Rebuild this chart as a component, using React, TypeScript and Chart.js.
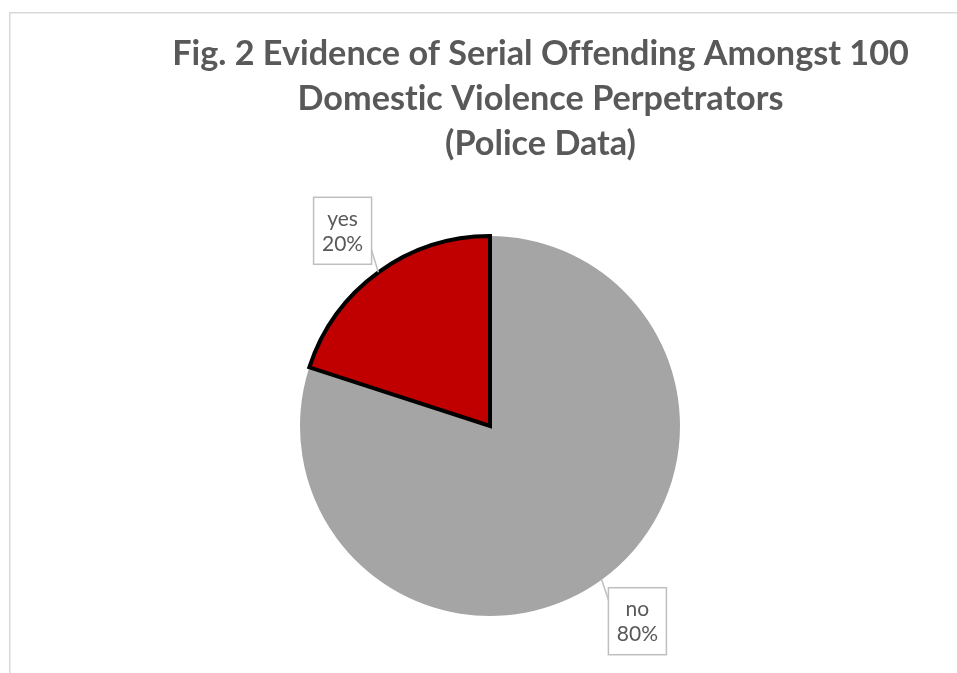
import React, { useEffect, useRef } from "react";
import { Chart, registerables } from "chart.js";

Chart.register(...registerables);

const titleLines = [
  "Fig. 2 Evidence of Serial Offending Amongst 100",
  "Domestic Violence Perpetrators",
  "(Police Data)",
];
const categories = ["no", "yes"];
const values = [80, 20];
const sliceColors = ["#A5A5A5", "#C00000"];
const sliceBorderColors = ["#A5A5A5", "#000000"];
const sliceBorderWidths = [0, 4];

const FONT = "Lato, 'Noto Sans', sans-serif";

const framePlugin = {
  id: "frame",
  beforeDraw(chart: any) {
    const ctx = chart.ctx;
    ctx.save();
    ctx.strokeStyle = "#D9D9D9";
    ctx.lineWidth = 1.5;
    ctx.beginPath();
    ctx.moveTo(9.75, chart.height + 5);
    ctx.lineTo(9.75, 12.75);
    ctx.lineTo(chart.width + 5, 12.75);
    ctx.stroke();
    ctx.restore();
  },
};

const titlePlugin = {
  id: "customTitle",
  afterDraw(chart: any) {
    const ctx = chart.ctx;
    ctx.save();
    try { (ctx as any).textRendering = "optimizeSpeed"; } catch (e) {}
    ctx.font = `bold 100px ${FONT}`;
    const w = ctx.measureText(titleLines[0]).width;
    const size = (737 / w) * 100;
    ctx.font = `bold ${size}px ${FONT}`;
    ctx.fillStyle = "#595959";
    ctx.textAlign = "center";
    ctx.textBaseline = "alphabetic";
    const cx = 540.5;
    const baselines = [65, 110, 155];
    titleLines.forEach((t, i) => ctx.fillText(t, cx, baselines[i]));
    ctx.restore();
  },
};

const calloutPlugin = {
  id: "callouts",
  afterDatasetsDraw(chart: any) {
    const ctx = chart.ctx;
    const meta = chart.getDatasetMeta(0);
    const data = chart.data.datasets[0].data as number[];
    const total = data.reduce((a, b) => a + b, 0);
    ctx.save();
    meta.data.forEach((arc: any, i: number) => {
      const p = arc.getProps(["x", "y", "startAngle", "endAngle", "outerRadius"], true);
      const mid = (p.startAngle + p.endAngle) / 2;
      const dx = Math.cos(mid);
      const dy = Math.sin(mid);
      const ex = p.x + dx * p.outerRadius;
      const ey = p.y + dy * p.outerRadius;
      const bx = p.x + dx * p.outerRadius * 1.32;
      const by = p.y + dy * p.outerRadius * 1.27;
      const bw = 58;
      const bh = 67;
      const left = bx - bw / 2;
      const top = by - bh / 2;
      const ax = dx < 0 ? left + bw : left;
      const ay = dy < 0 ? top + bh - 14 : top + 12;
      ctx.strokeStyle = "#BFBFBF";
      ctx.lineWidth = 1.5;
      ctx.fillStyle = "#FFFFFF";
      ctx.fillRect(left, top, bw, bh);
      ctx.strokeRect(left, top, bw, bh);
      ctx.beginPath();
      ctx.moveTo(ex, ey);
      ctx.lineTo(ax, ay);
      ctx.stroke();
      ctx.fillStyle = "#595959";
      ctx.font = `21px ${FONT}`;
      ctx.textAlign = "center";
      ctx.textBaseline = "middle";
      const pct = Math.round((data[i] / total) * 100) + "%";
      ctx.fillText(chart.data.labels[i], bx, by - 12);
      ctx.fillText(pct, bx, by + 13);
    });
    ctx.restore();
  },
};

export default function App() {
  const ref = useRef<HTMLCanvasElement | null>(null);
  useEffect(() => {
    if (!ref.current) return;
    const chart = new Chart(ref.current, {
      type: "pie",
      data: {
        labels: categories,
        datasets: [
          {
            data: values,
            backgroundColor: sliceColors,
            borderColor: sliceBorderColors,
            borderWidth: sliceBorderWidths,
            hoverBorderWidth: sliceBorderWidths,
            borderJoinStyle: "miter",
            hoverOffset: 0,
          } as any,
        ],
      },
      options: {
        animation: false,
        responsive: true,
        maintainAspectRatio: false,
        layout: { padding: { left: 298, right: 275, top: 234, bottom: 55 } },
        plugins: {
          legend: { display: false },
          title: { display: false },
          tooltip: { enabled: false },
        },
        events: [],
      },
      plugins: [framePlugin, titlePlugin, calloutPlugin],
    });
    return () => chart.destroy();
  }, []);
  return (
    <div style={{ position: "fixed", left: 0, top: 0, width: 957, height: 673, background: "#fff" }}>
      <canvas ref={ref} />
    </div>
  );
}
